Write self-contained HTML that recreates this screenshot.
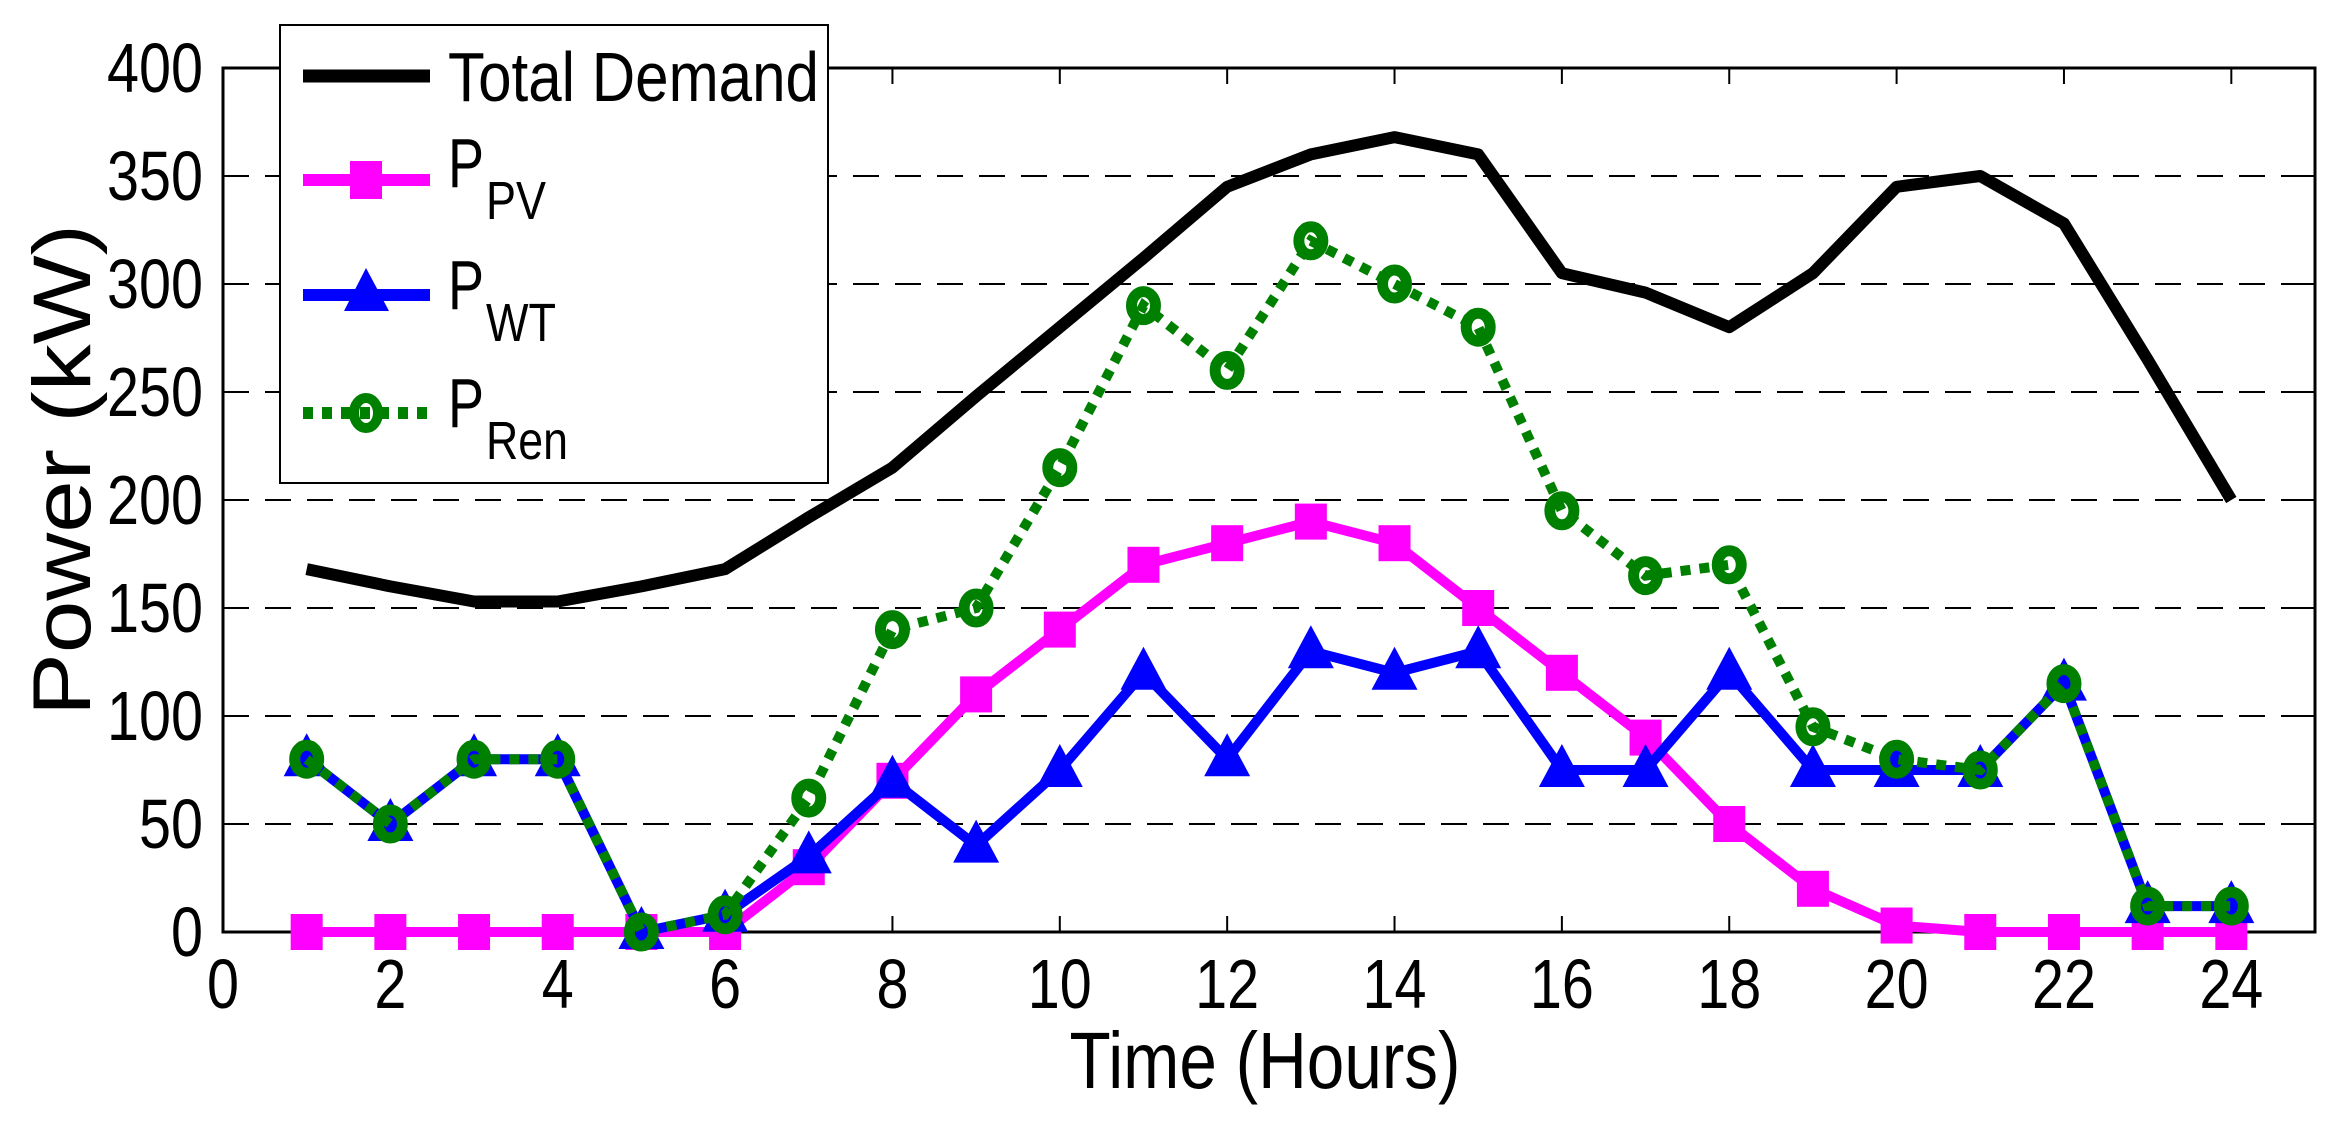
<!DOCTYPE html>
<html><head><meta charset="utf-8"><style>html,body{margin:0;padding:0;background:#fff}svg{display:block}</style></head>
<body>
<svg width="2338" height="1124" viewBox="0 0 2338 1124" xmlns="http://www.w3.org/2000/svg" font-family="Liberation Sans, Arial, sans-serif">
<rect width="2338" height="1124" fill="#fff"/>
<g id="grid" stroke="#000" stroke-width="2" stroke-dasharray="26,16">
<line x1="223" y1="176" x2="2315" y2="176"/>
<line x1="223" y1="284" x2="2315" y2="284"/>
<line x1="223" y1="392" x2="2315" y2="392"/>
<line x1="223" y1="500" x2="2315" y2="500"/>
<line x1="223" y1="608" x2="2315" y2="608"/>
<line x1="223" y1="716" x2="2315" y2="716"/>
<line x1="223" y1="824" x2="2315" y2="824"/>
</g>
<rect x="223" y="68" width="2092" height="864" fill="none" stroke="#000" stroke-width="3"/>
<g stroke="#000" stroke-width="2" id="ticks"></g>
<g font-size="70" text-anchor="end" id="ylab"></g>
<g font-size="70" text-anchor="middle" id="xlab"></g>
<g id="series"></g>
<text x="1265" y="1088" font-size="80" text-anchor="middle" textLength="391" lengthAdjust="spacingAndGlyphs">Time (Hours)</text>
<text transform="translate(90,470) rotate(-90)" font-size="82" text-anchor="middle" textLength="492" lengthAdjust="spacingAndGlyphs">Power (kW)</text>
<g id="legend">
<rect x="280" y="25" width="548" height="458" fill="#fff" stroke="#000" stroke-width="2"/>
<line x1="303" y1="76" x2="430" y2="76" stroke="#000" stroke-width="13"/>
<text x="448" y="101" font-size="70" textLength="371" lengthAdjust="spacingAndGlyphs">Total Demand</text>
<line x1="303" y1="180" x2="430" y2="180" stroke="#f0f" stroke-width="12"/>
<rect x="350" y="161" width="32" height="38" fill="#f0f"/>
<text x="448" y="187" font-size="70" textLength="36" lengthAdjust="spacingAndGlyphs">P</text>
<text x="486" y="219" font-size="54" textLength="60" lengthAdjust="spacingAndGlyphs">PV</text>
<line x1="303" y1="295" x2="430" y2="295" stroke="#00f" stroke-width="12"/>
<polygon points="366,268 344,311 389,311" fill="#00f"/>
<text x="448" y="309" font-size="70" textLength="36" lengthAdjust="spacingAndGlyphs">P</text>
<text x="486" y="341" font-size="54" textLength="70" lengthAdjust="spacingAndGlyphs">WT</text>
<line x1="303" y1="413" x2="430" y2="413" stroke="#008000" stroke-width="12" stroke-dasharray="10,9"/>
<ellipse cx="366" cy="413" rx="12" ry="15" fill="none" stroke="#008000" stroke-width="10"/>
<text x="448" y="427" font-size="70" textLength="36" lengthAdjust="spacingAndGlyphs">P</text>
<text x="486" y="459" font-size="54" textLength="82" lengthAdjust="spacingAndGlyphs">Ren</text>
</g>
<script>
var NS="http://www.w3.org/2000/svg";
function X(h){return 223+h*83.68}function Y(v){return 932-v*2.16}
function el(p,t,a,txt){var e=document.createElementNS(NS,t);for(var k in a)e.setAttribute(k,a[k]);if(txt!=null)e.textContent=txt;document.getElementById(p).appendChild(e);return e}
for(var v=0;v<=400;v+=50){var y=Y(v);el('ticks','line',{x1:223,y1:y,x2:239,y2:y});el('ticks','line',{x1:2299,y1:y,x2:2315,y2:y});
el('ylab','text',{x:203,y:y+24,textLength:String(v).length*32,lengthAdjust:'spacingAndGlyphs'},String(v));}
for(var h=0;h<=24;h+=2){var x=X(h);el('ticks','line',{x1:x,y1:932,x2:x,y2:916});el('ticks','line',{x1:x,y1:68,x2:x,y2:84});
el('xlab','text',{x:x,y:1008,textLength:String(h).length*32,lengthAdjust:'spacingAndGlyphs'},String(h));}
var D=[168,160,153,153,160,168,192,215,248,280,312,345,360,368,360,305,296,280,305,345,350,328,265,200];
var PV=[0,0,0,0,0,0,30,70,110,140,170,180,190,180,150,120,90,50,20,3,0,0,0,0];
var WT=[80,50,80,80,0,8,35,70,40,75,120,80,130,120,130,75,75,120,75,75,75,115,12,12];
var RN=[80,50,80,80,0,8,62,140,150,215,290,260,320,300,280,195,165,170,95,80,75,115,12,12];
function pts(a){return a.map(function(v,i){return X(i+1)+','+Y(v)}).join(' ')}
el('series','polyline',{points:pts(D),fill:'none',stroke:'#000','stroke-width':12,'stroke-linejoin':'round'});
el('series','polyline',{points:pts(PV),fill:'none',stroke:'#f0f','stroke-width':10});
PV.forEach(function(v,i){el('series','rect',{x:X(i+1)-16,y:Y(v)-18,width:32,height:36,fill:'#f0f'})});
el('series','polyline',{points:pts(WT),fill:'none',stroke:'#00f','stroke-width':10});
WT.forEach(function(v,i){var x=X(i+1),y=Y(v);el('series','polygon',{points:(x)+','+(y-26)+' '+(x-23)+','+(y+17)+' '+(x+23)+','+(y+17),fill:'#00f'})});
el('series','polyline',{points:pts(RN),fill:'none',stroke:'#008000','stroke-width':10,'stroke-dasharray':'10,9'});
RN.forEach(function(v,i){el('series','ellipse',{cx:X(i+1),cy:Y(v),rx:12,ry:14,fill:'none',stroke:'#008000','stroke-width':11})});
</script>
</svg>
</body></html>
